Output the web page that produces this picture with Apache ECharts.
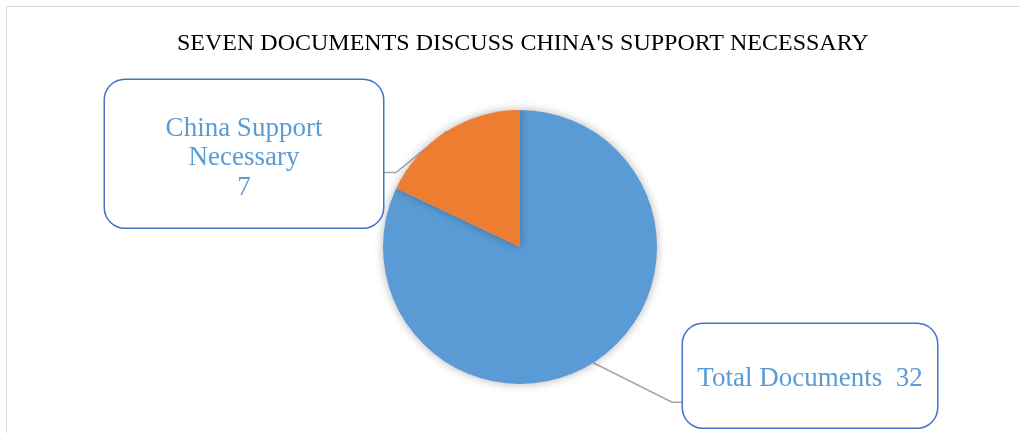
<!DOCTYPE html>
<html>
<head>
<meta charset="utf-8">
<script src="https://cdn.jsdelivr.net/npm/echarts@6/dist/echarts.min.js"></script>
<style>
  html, body { margin: 0; padding: 0; background: #fff; }
  #frame {
    position: absolute; left: 6px; top: 6px; width: 1014px; height: 427px;
    border-left: 1px solid #d9d9d9; border-top: 1px solid #d9d9d9;
  }
  #chart { position: absolute; left: 0; top: 0; width: 1020px; height: 433px; }
</style>
</head>
<body>
<div id="frame"></div>
<div id="chart"></div>
<script>
// data
const categories = ["Total Documents", "China Support Necessary"];
const values = [32, 7];
const labelTexts = ["Total Documents  32", "China Support\nNecessary\n7"];
const colors = ["#5B9BD5", "#ED7D31"];

const chart = echarts.init(document.getElementById("chart"));

// callout boxes (left/top/width/height in px) and where the leader line meets them
const boxes = [
  { x: 683, y: 324, w: 254, h: 103, side: "left", lineY: 0.76, pad: [40, 0, 34, 0] },
  { x: 105, y: 80, w: 278, h: 147, side: "right", lineY: 0.63, pad: [34, 0, 25, 0] }
];

const option = {
  animation: false,
  title: {
    text: "SEVEN DOCUMENTS DISCUSS CHINA'S SUPPORT NECESSARY",
    left: 172,
    top: 27,
    textStyle: {
      fontFamily: "Liberation Serif",
      fontWeight: "normal",
      fontSize: 24,
      color: "#000"
    }
  },
  series: [
    {
      type: "pie",
      center: [520, 247],
      radius: 137,
      startAngle: 90,
      clockwise: true,
      avoidLabelOverlap: false,
      itemStyle: {
        shadowBlur: 10,
        shadowColor: "rgba(0,0,0,0.3)"
      },
      label: {
        show: true,
        position: "outside",
        fontFamily: "Liberation Serif",
        fontSize: 27,
        lineHeight: 29.5,
        color: "#5B9BD5",
        backgroundColor: "#fff",
        borderColor: "#4472C4",
        borderWidth: 1.5,
        borderRadius: 20,
        align: "center"
      },
      labelLine: {
        show: true,
        length: 20,
        length2: 20,
        lineStyle: { color: "#A5A5A5", width: 1.5 }
      },
      labelLayout: function (params) {
        const b = boxes[params.dataIndex];
        const anchor = params.labelLinePoints ? params.labelLinePoints[0] : null;
        const ly = b.y + b.h * b.lineY;
        const ex = b.side === "left" ? b.x : b.x + b.w;
        const mx = b.side === "left" ? ex - 11 : ex + 13;
        const res = { x: b.x + b.w / 2, y: b.y, align: "center", verticalAlign: "top" };
        if (anchor) res.labelLinePoints = [anchor, [mx, ly], [ex, ly]];
        return res;
      },
      data: categories.map((name, i) => ({
        name: name,
        value: values[i],
        itemStyle: { color: colors[i] },
        label: {
          formatter: labelTexts[i],
          width: boxes[i].w,
          padding: boxes[i].pad
        }
      }))
    }
  ]
};

chart.setOption(option);
window.addEventListener("resize", () => chart.resize());
</script>
</body>
</html>
